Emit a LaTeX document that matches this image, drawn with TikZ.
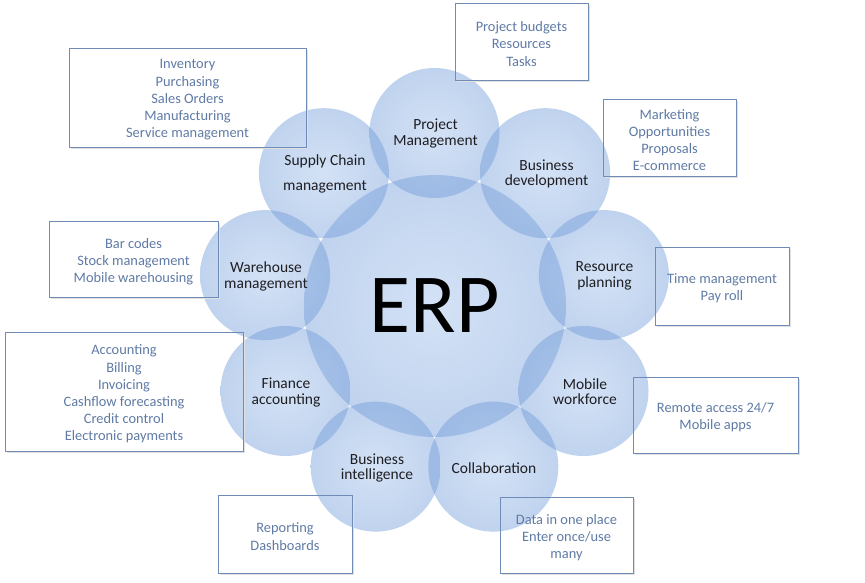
\documentclass[tikz,border=0pt]{standalone}
\usepackage{fontspec}
\setmainfont{Carlito}
\definecolor{circin}{RGB}{150,185,232}
\definecolor{circout}{RGB}{105,150,215}
\definecolor{labeltext}{RGB}{30,30,35}
\definecolor{boxtext}{RGB}{95,122,165}
\definecolor{boxline}{RGB}{110,140,182}
\begin{document}
\begin{tikzpicture}[x=1pt,y=-1pt,
  bubble/.style={circle, inner sep=0pt, minimum size=130pt, inner color=circin, outer color=circout, fill opacity=0.42, draw=none},
  hub/.style={bubble, minimum size=262pt},
  blabel/.style={align=center, font=\fontsize{15.5}{15.5}\selectfont, text=labeltext, inner sep=0pt, yshift=-1.5pt},
  infobox/.style={draw=boxline, line width=0.8pt, inner sep=0pt},
  boxshadow/.style={draw=black!12, line width=1.4pt},
  boxlabel/.style={align=center, font=\fontsize{14.4}{17.2}\selectfont, text=boxtext, inner sep=0pt},
]
\useasboundingbox (0,0) rectangle (865,583);
% circles
\node[hub] (erp) at (435,306) {};
\node[bubble] (pm) at (434.5,133) {};
\node[bubble] (sc) at (323.9,173.2) {};
\node[bubble] (wh) at (265.1,275.1) {};
\node[bubble] (fa) at (285.5,391) {};
\node[bubble] (bi) at (375.7,466.6) {};
\node[bubble] (co) at (493.3,466.6) {};
\node[bubble] (mw) at (583.5,391) {};
\node[bubble] (rp) at (603.9,275.1) {};
\node[bubble] (bd) at (545.1,173.2) {};
% labels
\node[text=black, font=\fontsize{84}{84}\selectfont, inner sep=0pt] (erpt) at (435,306) {ERP};
\node[blabel] (pmt) at (435.5,132) {Project\\Management};
\node[blabel, font=\fontsize{15.5}{24.5}\selectfont] (sct) at (325,172.5) {Supply Chain\\management};
\node[blabel] (wht) at (266,275) {Warehouse\\management};
\node[blabel] (fat) at (286,391) {Finance\\accounting};
\node[blabel] (bit) at (377,466.5) {Business\\intelligence};
\node[blabel] (cot) at (494,467) {Collaboration};
\node[blabel] (mwt) at (585,390) {Mobile\\workforce};
\node[blabel] (rpt) at (604.5,274.5) {Resource\\planning};
\node[blabel] (bdt) at (546.5,172.5) {Business\\development};
% boxes
\node[infobox, minimum width=133pt, minimum height=77pt] (pbb) at (521.5,41.5) {};
\node[infobox, minimum width=133pt, minimum height=77pt] (mkb) at (669.5,137.5) {};
\node[infobox, minimum width=237pt, minimum height=99pt] (invb) at (187.5,97.5) {};
\node[infobox, minimum width=169pt, minimum height=76pt] (barb) at (133.5,259) {};
\node[infobox, minimum width=134pt, minimum height=78pt] (tmb) at (722,286) {};
\node[infobox, minimum width=238pt, minimum height=119pt] (accb) at (124,391.5) {};
\node[infobox, minimum width=134pt, minimum height=78pt] (repb) at (285,534) {};
\node[infobox, minimum width=165pt, minimum height=76pt] (remb) at (715.5,415) {};
\node[infobox, minimum width=133pt, minimum height=76pt] (datb) at (566.5,535) {};
% soft shadows (right and bottom edges)
\foreach \b in {pbb,mkb,invb,barb,tmb,accb,repb,remb,datb}{
  \draw[boxshadow] ([xshift=1.3pt,yshift=-2pt]\b.north east) |- ([xshift=2pt,yshift=-1.3pt]\b.south west);
}
% box texts
\node[boxlabel] (pbt) at ([yshift=-2.5pt]pbb.center) {Project budgets\\Resources\\Tasks};
\node[boxlabel] (mkt) at ([yshift=-2.5pt]mkb.center) {Marketing\\Opportunities\\Proposals\\E-commerce};
\node[boxlabel] (invt) at ([yshift=-2.5pt]invb.center) {Inventory\\Purchasing\\Sales Orders\\Manufacturing\\Service management};
\node[boxlabel] (bart) at ([yshift=-2.5pt]barb.center) {Bar codes\\Stock management\\Mobile warehousing};
\node[boxlabel] (tmt) at ([yshift=-2.5pt]tmb.center) {Time management\\Pay roll};
\node[boxlabel] (acct) at ([yshift=-2.5pt]accb.center) {Accounting\\Billing\\Invoicing\\Cashflow forecasting\\Credit control\\Electronic payments};
\node[boxlabel] (rept) at ([yshift=-2.5pt]repb.center) {Reporting\\Dashboards};
\node[boxlabel] (remt) at ([yshift=-2.5pt]remb.center) {Remote access 24/7\\Mobile apps};
\node[boxlabel] (datt) at ([yshift=-2.5pt]datb.center) {Data in one place\\Enter once/use\\many};
\end{tikzpicture}
\end{document}
